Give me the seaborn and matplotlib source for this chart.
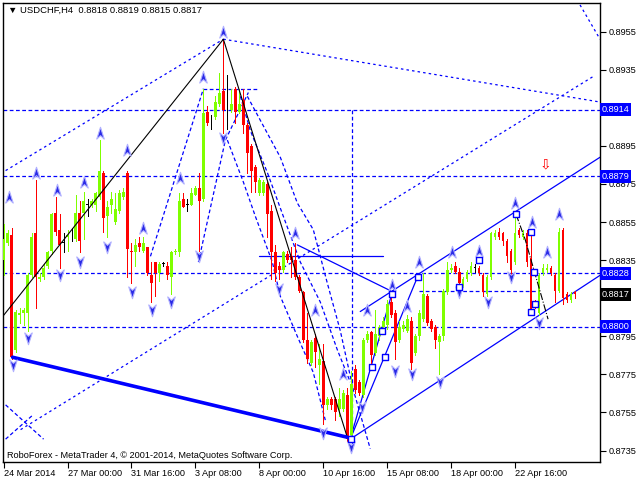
import numpy as np
import matplotlib.pyplot as plt
import matplotlib.transforms as mtransforms
from matplotlib.path import Path
import seaborn as sns

# USDCHF H4 bars, 24 Mar - 24 Apr 2014
opens = [0.8835, 0.8844, 0.8848, 0.8788, 0.8806, 0.8807, 0.8807, 0.8827, 0.8849, 0.8825,
         0.8826, 0.8832, 0.8840, 0.8860, 0.8851, 0.8844, 0.8847, 0.8847, 0.8846, 0.8860,
         0.8860, 0.8864, 0.8864, 0.8864, 0.8868, 0.8881, 0.8858, 0.8864, 0.8855, 0.8861,
         0.8868, 0.8881, 0.8840, 0.8839, 0.8844, 0.8840, 0.8842, 0.8827, 0.8834, 0.8828,
         0.8833, 0.8832, 0.8826, 0.8839, 0.8839, 0.8867, 0.8864, 0.8864, 0.8869, 0.8873,
         0.8867, 0.8913, 0.8909, 0.8910, 0.8917, 0.8924, 0.8911, 0.8914, 0.8925, 0.8913,
         0.8919, 0.8906, 0.8895, 0.8884, 0.8870, 0.8870, 0.8875, 0.8861, 0.8839, 0.8832,
         0.8830, 0.8838, 0.8837, 0.8835, 0.8826, 0.8818, 0.8793, 0.8781, 0.8794, 0.8780,
         0.8782, 0.8759, 0.8762, 0.8762, 0.8757, 0.8757, 0.8764, 0.8743, 0.8778, 0.8771,
         0.8764, 0.8793, 0.8797, 0.8786, 0.8795, 0.8800, 0.8801, 0.8813, 0.8807, 0.8793,
         0.8799, 0.8798, 0.8803, 0.8786, 0.8795, 0.8804, 0.8816, 0.8803, 0.8800, 0.8792,
         0.8795, 0.8818, 0.8830, 0.8832, 0.8829, 0.8822, 0.8825, 0.8828, 0.8831, 0.8831,
         0.8827, 0.8817, 0.8826, 0.8847, 0.8850, 0.8849, 0.8845, 0.8840, 0.8834, 0.8851,
         0.8847, 0.8849, 0.8836, 0.8813, 0.8807, 0.8828, 0.8830, 0.8831, 0.8827, 0.8819,
         0.8851, 0.8817, 0.8814, 0.8818]
highs = [0.8854, 0.8851, 0.8852, 0.8809, 0.8810, 0.8810, 0.8828, 0.8849, 0.8877, 0.8828,
         0.8833, 0.8840, 0.8860, 0.8868, 0.8859, 0.8849, 0.8851, 0.8852, 0.8869, 0.8866,
         0.8871, 0.8867, 0.8867, 0.8871, 0.8898, 0.8882, 0.8866, 0.8871, 0.8870, 0.8872,
         0.8873, 0.8882, 0.8844, 0.8846, 0.8847, 0.8847, 0.8842, 0.8834, 0.8834, 0.8834,
         0.8834, 0.8834, 0.8840, 0.8841, 0.8870, 0.8870, 0.8867, 0.8873, 0.8874, 0.8881,
         0.8925, 0.8916, 0.8911, 0.8921, 0.8933, 0.8951, 0.8932, 0.8925, 0.8926, 0.8925,
         0.8925, 0.8907, 0.8896, 0.8885, 0.8878, 0.8877, 0.8876, 0.8864, 0.8843, 0.8834,
         0.8840, 0.8840, 0.8842, 0.8844, 0.8827, 0.8819, 0.8807, 0.8793, 0.8796, 0.8791,
         0.8791, 0.8763, 0.8763, 0.8763, 0.8768, 0.8767, 0.8768, 0.8777, 0.8780, 0.8772,
         0.8794, 0.8798, 0.8798, 0.8809, 0.8801, 0.8805, 0.8814, 0.8815, 0.8809, 0.8803,
         0.8803, 0.8806, 0.8805, 0.8796, 0.8809, 0.8828, 0.8817, 0.8804, 0.8801, 0.8796,
         0.8820, 0.8834, 0.8833, 0.8834, 0.8831, 0.8826, 0.8830, 0.8834, 0.8833, 0.8832,
         0.8828, 0.8827, 0.8850, 0.8851, 0.8852, 0.8850, 0.8846, 0.8841, 0.8860, 0.8852,
         0.8851, 0.8851, 0.8851, 0.8814, 0.8828, 0.8833, 0.8833, 0.8832, 0.8828, 0.8852,
         0.8852, 0.8818, 0.8818, 0.8819]
lows = [0.8827, 0.8843, 0.8783, 0.8787, 0.8802, 0.8801, 0.8798, 0.8826, 0.8810, 0.8824,
        0.8825, 0.8831, 0.8838, 0.8848, 0.8831, 0.8839, 0.8840, 0.8845, 0.8845, 0.8839,
        0.8846, 0.8858, 0.8863, 0.8861, 0.8867, 0.8850, 0.8847, 0.8860, 0.8854, 0.8860,
        0.8867, 0.8826, 0.8823, 0.8832, 0.8840, 0.8839, 0.8827, 0.8813, 0.8816, 0.8824,
        0.8832, 0.8825, 0.8817, 0.8838, 0.8837, 0.8863, 0.8861, 0.8864, 0.8869, 0.8840,
        0.8866, 0.8906, 0.8904, 0.8909, 0.8916, 0.8902, 0.8904, 0.8913, 0.8907, 0.8912,
        0.8902, 0.8881, 0.8871, 0.8871, 0.8869, 0.8869, 0.8847, 0.8825, 0.8824, 0.8825,
        0.8829, 0.8834, 0.8826, 0.8825, 0.8818, 0.8792, 0.8781, 0.8780, 0.8779, 0.8770,
        0.8749, 0.8757, 0.8757, 0.8751, 0.8753, 0.8756, 0.8740, 0.8741, 0.8765, 0.8764,
        0.8763, 0.8792, 0.8780, 0.8785, 0.8793, 0.8799, 0.8799, 0.8805, 0.8783, 0.8792,
        0.8798, 0.8797, 0.8778, 0.8785, 0.8793, 0.8803, 0.8801, 0.8798, 0.8789, 0.8775,
        0.8793, 0.8817, 0.8829, 0.8828, 0.8816, 0.8821, 0.8824, 0.8827, 0.8829, 0.8827,
        0.8816, 0.8816, 0.8825, 0.8846, 0.8846, 0.8843, 0.8834, 0.8827, 0.8833, 0.8847,
        0.8846, 0.8832, 0.8806, 0.8810, 0.8806, 0.8827, 0.8829, 0.8827, 0.8813, 0.8818,
        0.8812, 0.8813, 0.8813, 0.8815]
closes = [0.8846, 0.8849, 0.8784, 0.8808, 0.8807, 0.8809, 0.8827, 0.8847, 0.8826, 0.8826,
          0.8831, 0.8839, 0.8859, 0.8850, 0.8843, 0.8844, 0.8848, 0.8847, 0.8860, 0.8845,
          0.8866, 0.8864, 0.8866, 0.8870, 0.8882, 0.8857, 0.8863, 0.8867, 0.8862, 0.8870,
          0.8871, 0.8841, 0.8839, 0.8843, 0.8842, 0.8844, 0.8828, 0.8823, 0.8828, 0.8833,
          0.8833, 0.8827, 0.8839, 0.8840, 0.8866, 0.8863, 0.8864, 0.8870, 0.8873, 0.8866,
          0.8912, 0.8907, 0.8909, 0.8918, 0.8923, 0.8914, 0.8911, 0.8917, 0.8913, 0.8917,
          0.8906, 0.8891, 0.8882, 0.8876, 0.8877, 0.8876, 0.8859, 0.8839, 0.8828, 0.8830,
          0.8839, 0.8835, 0.8835, 0.8826, 0.8819, 0.8793, 0.8783, 0.8792, 0.8787, 0.8783,
          0.8759, 0.8762, 0.8759, 0.8755, 0.8762, 0.8765, 0.8741, 0.8770, 0.8767, 0.8765,
          0.8793, 0.8796, 0.8785, 0.8796, 0.8800, 0.8803, 0.8812, 0.8806, 0.8792, 0.8800,
          0.8801, 0.8804, 0.8781, 0.8795, 0.8807, 0.8817, 0.8802, 0.8799, 0.8793, 0.8795,
          0.8819, 0.8830, 0.8831, 0.8829, 0.8823, 0.8825, 0.8829, 0.8832, 0.8831, 0.8828,
          0.8818, 0.8826, 0.8849, 0.8849, 0.8847, 0.8845, 0.8837, 0.8830, 0.8849, 0.8848,
          0.8849, 0.8834, 0.8808, 0.8812, 0.8827, 0.8831, 0.8831, 0.8828, 0.8819, 0.8850,
          0.8815, 0.8814, 0.8817, 0.8817]

tick_bars = [0, 16, 32, 48, 64, 80, 96, 112, 128]
tick_labels = ["24 Mar 2014", "27 Mar 00:00", "31 Mar 16:00", "3 Apr 08:00", "8 Apr 00:00",
               "10 Apr 16:00", "15 Apr 08:00", "18 Apr 00:00", "22 Apr 16:00"]
y_ticks = [0.8735, 0.8755, 0.8775, 0.8795, 0.8815, 0.8835, 0.8855, 0.8875, 0.8895, 0.8915, 0.8935, 0.8955]

# horizontal levels with their labels on the price scale
levels = [0.8914, 0.8879, 0.8828, 0.8800]
last_price = 0.8817

# fractal arrows (bar, price)
up_x = [1.25, 8, 13.25, 20, 24, 31, 35, 44.25, 50, 55, 73, 78, 85, 91, 97.25, 101, 104,
        112.25, 119, 128, 132.25, 136, 139]
up_y = [0.8868, 0.8881, 0.8872, 0.8876, 0.8902, 0.8893, 0.8852, 0.8878, 0.8931, 0.8955,
        0.8849, 0.8809, 0.8775, 0.8809, 0.8822, 0.8811, 0.8834, 0.8839, 0.8840, 0.8865,
        0.8855, 0.8839, 0.8859]
dn_x = [2.25, 6, 14, 19, 26, 32.25, 37.25, 42, 49, 55, 69, 80, 87, 89.75, 98, 102.25,
        109.25, 114, 121.25, 127, 134]
dn_y = [0.8780, 0.8794, 0.8827, 0.8834, 0.8842, 0.8818, 0.8809, 0.8813, 0.8837, 0.8899,
        0.8820, 0.8744, 0.8737, 0.8758, 0.8777, 0.8775, 0.8771, 0.8818, 0.8813, 0.8826,
        0.8802]

# wave points (hollow squares)
sq_x = [87, 92.25, 95.5, 94.75, 97.25, 103.75, 114, 119, 128.25, 132, 132, 132.75, 133]
sq_y = [0.8741, 0.8779, 0.8784, 0.8798, 0.8817, 0.8826, 0.8821, 0.8835, 0.8859, 0.8850,
        0.8808, 0.8829, 0.8812]

# drawn objects
zigzag_x = [0, 55, 86]
zigzag_y = [0.8806, 0.8951, 0.8742]
base_x = [2.25, 86]
base_y = [0.8784, 0.8742]
dotted_lines = {
    "fan_a": ([0.5, 55], [0.8882, 0.8951]),
    "fan_b": ([55, 149.25], [0.8951, 0.8918]),
    "fan_c": ([144.25, 149.25], [0.8969, 0.8951]),
    "long_d": ([4.25, 148], [0.8746, 0.8932]),
}
dashed_lines = {
    "cross1": ([0.5, 10], [0.8759, 0.8741]),
    "cross2": ([0.5, 7.5], [0.8741, 0.8754]),
    "peak_l1": ([36.75, 50], [0.8837, 0.8925]),
    "peak_l2": ([48.75, 55.5, 61.25], [0.8834, 0.8898, 0.8923]),
    "arc1": ([56, 60, 63, 67.25, 69.25, 73.5, 77.5, 80.5],
             [0.8898, 0.8876, 0.8858, 0.8834, 0.8816, 0.8795, 0.8776, 0.8751]),
    "arc2": ([59.25, 61.75, 66, 70, 74.25, 79.25, 83.5, 86.75],
             [0.8921, 0.8903, 0.8881, 0.8858, 0.8834, 0.8813, 0.8788, 0.8771]),
    "arc3": ([61, 69.25, 73.5, 77.5, 81, 84.25, 87.5, 91.75],
             [0.8921, 0.8889, 0.8865, 0.8851, 0.8823, 0.8798, 0.8767, 0.8736]),
    "short_top": ([50, 64], [0.8925, 0.8925]),
    "short_mid": ([104, 134], [0.8819, 0.8819]),
    "vline": ([87.25, 87.25], [0.8914, 0.8736]),
}
solid_lines = {
    "hline": ([64, 95], [0.8837, 0.8837]),
    "tri": ([73.5, 96.75], [0.8843, 0.8819]),
    "wave1": ([86.75, 97.25], [0.8741, 0.8818]),
    "wave2": ([86.75, 103.75], [0.8741, 0.8827]),
    "chan_up": ([89.25, 149.25], [0.8808, 0.8889]),
    "chan_lo": ([86.75, 149.25], [0.8741, 0.8827]),
}
dashdot_x = [128.25, 130.5, 136.25]
dashdot_y = [0.8859, 0.8846, 0.8804]
signal_x, signal_y = 135.5, 0.8885

sns.set_theme(style="white")
plt.rcParams["font.family"] = ["Liberation Sans", "DejaVu Sans"]

fig = plt.figure(figsize=(6.4, 4.8), dpi=100)
ax = fig.add_axes([3 / 640, 18 / 480, 597 / 640, 459 / 480])
ax.set_facecolor("white")

BLUE = "#0000ff"
GREEN = "#7fff00"

# 蜡烛
o = np.array(opens)
h = np.array(highs)
l = np.array(lows)
c = np.array(closes)
idx = np.arange(len(o))
cols = np.where(c > o, GREEN, np.where(c < o, "#ff0000", "black"))
ax.vlines(idx, l, h, colors=cols, linewidth=0.72, zorder=3, antialiased=False)
body = np.maximum(np.abs(c - o), 0.00003)
ax.bar(idx, body, bottom=np.minimum(o, c), width=0.68, color=cols, linewidth=0,
       antialiased=False, zorder=3)

# 水平线
for lv in levels:
    ax.axhline(lv, color=BLUE, linestyle=(0, (3, 2)), linewidth=0.9, zorder=2)

for xs, ys in dotted_lines.values():
    ax.plot(xs, ys, color=BLUE, linestyle=(0, (2, 2.5)), linewidth=0.9, zorder=2)
for xs, ys in dashed_lines.values():
    ax.plot(xs, ys, color=BLUE, linestyle=(0, (3, 2)), linewidth=0.9, zorder=2)
for xs, ys in solid_lines.values():
    ax.plot(xs, ys, color=BLUE, linewidth=0.9, zorder=2)

ax.plot(zigzag_x, zigzag_y, color="black", linewidth=0.8, zorder=4)
ax.plot(base_x, base_y, color=BLUE, linewidth=2.6, zorder=4)
ax.plot(dashdot_x, dashdot_y, color="black", linestyle="-.", linewidth=0.8, zorder=4)

# 箭头标记
arrow_up = Path([(0, 1), (0.6, -0.9), (0, -0.35), (-0.6, -0.9), (0, 1)],
                [Path.MOVETO, Path.LINETO, Path.LINETO, Path.LINETO, Path.CLOSEPOLY])
arrow_dn = Path([(0, -1), (0.6, 0.9), (0, 0.35), (-0.6, 0.9), (0, -1)],
                [Path.MOVETO, Path.LINETO, Path.LINETO, Path.LINETO, Path.CLOSEPOLY])
sns.scatterplot(x=up_x, y=up_y, marker=arrow_up, s=80, color="#2a2ae6",
                edgecolor="#b0b0ff", linewidth=0.8, ax=ax, zorder=5)
sns.scatterplot(x=dn_x, y=dn_y, marker=arrow_dn, s=80, color="#2a2ae6",
                edgecolor="#b0b0ff", linewidth=0.8, ax=ax, zorder=5)
sns.scatterplot(x=sq_x, y=sq_y, marker="s", s=18, facecolor="white",
                edgecolor=BLUE, linewidth=1.0, ax=ax, zorder=5)

ax.text(signal_x, signal_y, "\u21e9", color="red", fontsize=10, ha="center", va="center",
        family="DejaVu Sans", zorder=6)

# 坐标轴
ax.set_xlim(-0.15, 149.25)
ax.set_ylim(0.8729, 0.8970)
ax.set_xticks(tick_bars)
ax.set_xticklabels(tick_labels, ha="left")
ax.set_yticks(y_ticks)
# 被价格标签盖住的刻度不写文字
hidden = [0.8915, 0.8815]
ax.set_yticklabels(["" if v in hidden else f"{v:.4f}" for v in y_ticks])
ax.yaxis.tick_right()
ax.tick_params(axis="x", direction="out", length=4, width=0.8, pad=1, labelsize=6.6,
               colors="black", bottom=True)
ax.tick_params(axis="y", direction="out", length=4, width=0.8, pad=2, labelsize=6.6,
               colors="black", right=True)
ax.grid(False)
for sp in ax.spines.values():
    sp.set_color("black")
    sp.set_linewidth(1)

# 价格标签
trans = mtransforms.blended_transform_factory(ax.transAxes, ax.transData)
for lv in levels:
    ax.text(1.003, lv, f"{lv:.4f}", transform=trans, ha="left", va="center", fontsize=6.6,
            color="white", clip_on=False, zorder=10,
            bbox=dict(boxstyle="square,pad=0.2", fc=BLUE, ec="none"))
ax.text(1.003, last_price, f"{last_price:.4f}", transform=trans, ha="left", va="center",
        fontsize=6.6, color="white", clip_on=False, zorder=10,
        bbox=dict(boxstyle="square,pad=0.2", fc="black", ec="none"))

fig.text(8 / 640, 1 - 10 / 480, "\u25bc USDCHF,H4  0.8818 0.8819 0.8815 0.8817",
         fontsize=6.8, va="center", ha="left", color="black")
fig.text(7 / 640, 1 - 455 / 480, "RoboForex - MetaTrader 4, \u00a9 2001-2014, MetaQuotes Software Corp.",
         fontsize=6.6, va="center", ha="left", color="black")

fig.savefig("out.png", dpi=100)
